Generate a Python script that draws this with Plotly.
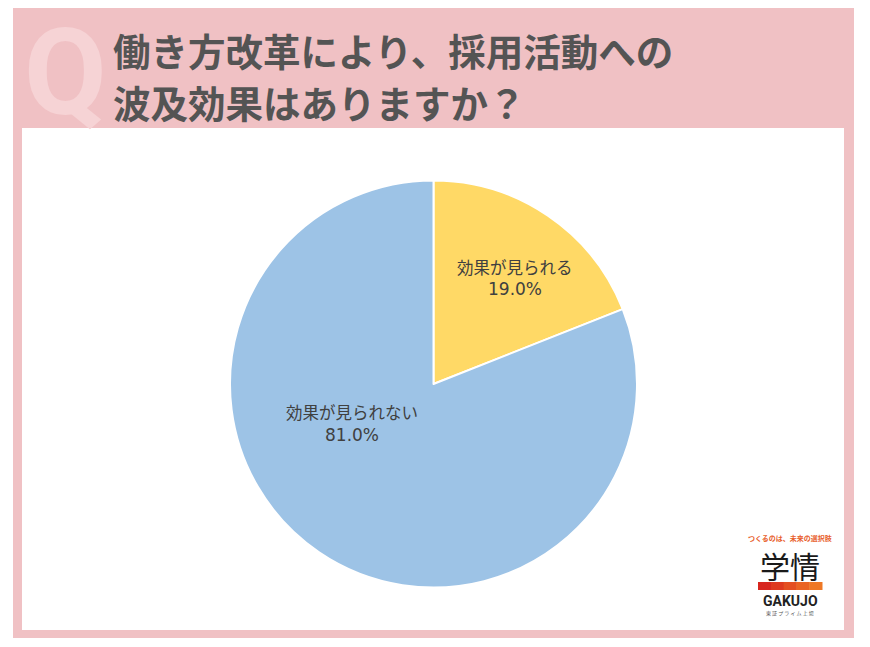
import plotly.graph_objects as go

# Data
categories = ["効果が見られる", "効果が見られない"]
values = [19.0, 81.0]
colors = ["#FFD966", "#9DC3E6"]
title_lines = ["働き方改革により、採用活動への", "波及効果はありますか？"]

W, H = 870, 647

def px(x):
    return x / W

def py(y):
    return 1 - y / H

fig = go.Figure()
fig.add_trace(go.Pie(
    labels=categories,
    values=values,
    sort=False,
    direction="clockwise",
    rotation=0,
    marker=dict(colors=colors, line=dict(color="white", width=2)),
    textinfo="none",
    hoverinfo="label+percent",
    domain=dict(x=[px(230), px(637)], y=[py(588), py(180)]),
    showlegend=False,
))

shapes = [
    dict(type="rect", xref="paper", yref="paper", x0=px(13), x1=px(854), y0=py(638), y1=py(8),
         fillcolor="#F0C1C4", line=dict(width=0), layer="below"),
    dict(type="rect", xref="paper", yref="paper", x0=px(22), x1=px(844), y0=py(630), y1=py(128),
         fillcolor="white", line=dict(width=0), layer="below"),
]
# logo gradient bar
grad = ["#D7261E", "#DE3A1F", "#E44F21", "#EA6423", "#EF7825"]
x0 = 758
seg = (822 - 758) / len(grad)
for i, c in enumerate(grad):
    shapes.append(dict(type="rect", xref="paper", yref="paper",
                       x0=px(x0 + i * seg), x1=px(x0 + (i + 1) * seg + 0.5),
                       y0=py(590), y1=py(582), fillcolor=c, line=dict(width=0), layer="above"))

fonttitle = "Noto Sans CJK JP"
annotations = [
    dict(text="<b>Q</b>", x=px(65), y=py(73), xref="paper", yref="paper", showarrow=False,
         font=dict(family="Roboto, Arial", size=120, color="#F6D3D5"), xanchor="center", yanchor="middle"),
    dict(text="<b>" + title_lines[0] + "</b>", x=px(111), y=py(49), xref="paper", yref="paper",
         showarrow=False, xanchor="left", yanchor="middle",
         font=dict(family=fonttitle, size=37.5, color="#545454")),
    dict(text="<b>" + title_lines[1] + "</b>", x=px(111), y=py(101), xref="paper", yref="paper",
         showarrow=False, xanchor="left", yanchor="middle",
         font=dict(family=fonttitle, size=37.5, color="#545454")),
    dict(text=categories[0], x=px(515), y=py(267), xref="paper", yref="paper",
         showarrow=False, xanchor="center", yanchor="middle",
         font=dict(family=fonttitle, size=16.5, color="#404040")),
    dict(text=f"{values[0]:.1f}%", x=px(515), y=py(289), xref="paper", yref="paper",
         showarrow=False, xanchor="center", yanchor="middle",
         font=dict(family="DejaVu Sans", size=17, color="#404040")),
    dict(text=categories[1], x=px(352), y=py(412), xref="paper", yref="paper",
         showarrow=False, xanchor="center", yanchor="middle",
         font=dict(family=fonttitle, size=16.5, color="#404040")),
    dict(text=f"{values[1]:.1f}%", x=px(352), y=py(435), xref="paper", yref="paper",
         showarrow=False, xanchor="center", yanchor="middle",
         font=dict(family="DejaVu Sans", size=17, color="#404040")),
    # logo
    dict(text="<b>つくるのは、未来の選択肢</b>", x=px(790), y=py(538), xref="paper", yref="paper",
         showarrow=False, xanchor="center", yanchor="middle",
         font=dict(family=fonttitle, size=7, color="#E8602C")),
    dict(text="学情", x=px(790), y=py(565), xref="paper", yref="paper",
         showarrow=False, xanchor="center", yanchor="middle",
         font=dict(family=fonttitle, size=30, color="#1A1A1A")),
    dict(text="<b>GAKUJO</b>", x=px(790), y=py(601), xref="paper", yref="paper",
         showarrow=False, xanchor="center", yanchor="middle",
         font=dict(family="Roboto, Arial", size=14, color="#222222")),
    dict(text="東 証 プ ラ イ ム 上 場", x=px(790), y=py(613), xref="paper", yref="paper",
         showarrow=False, xanchor="center", yanchor="middle",
         font=dict(family=fonttitle, size=5, color="#555555")),
]

fig.update_layout(
    width=W, height=H,
    margin=dict(l=0, r=0, t=0, b=0),
    paper_bgcolor="white",
    plot_bgcolor="white",
    shapes=shapes,
    annotations=annotations,
)

fig.write_html("out.html", config={"displayModeBar": False},
               post_script="document.body.style.margin='0';")
